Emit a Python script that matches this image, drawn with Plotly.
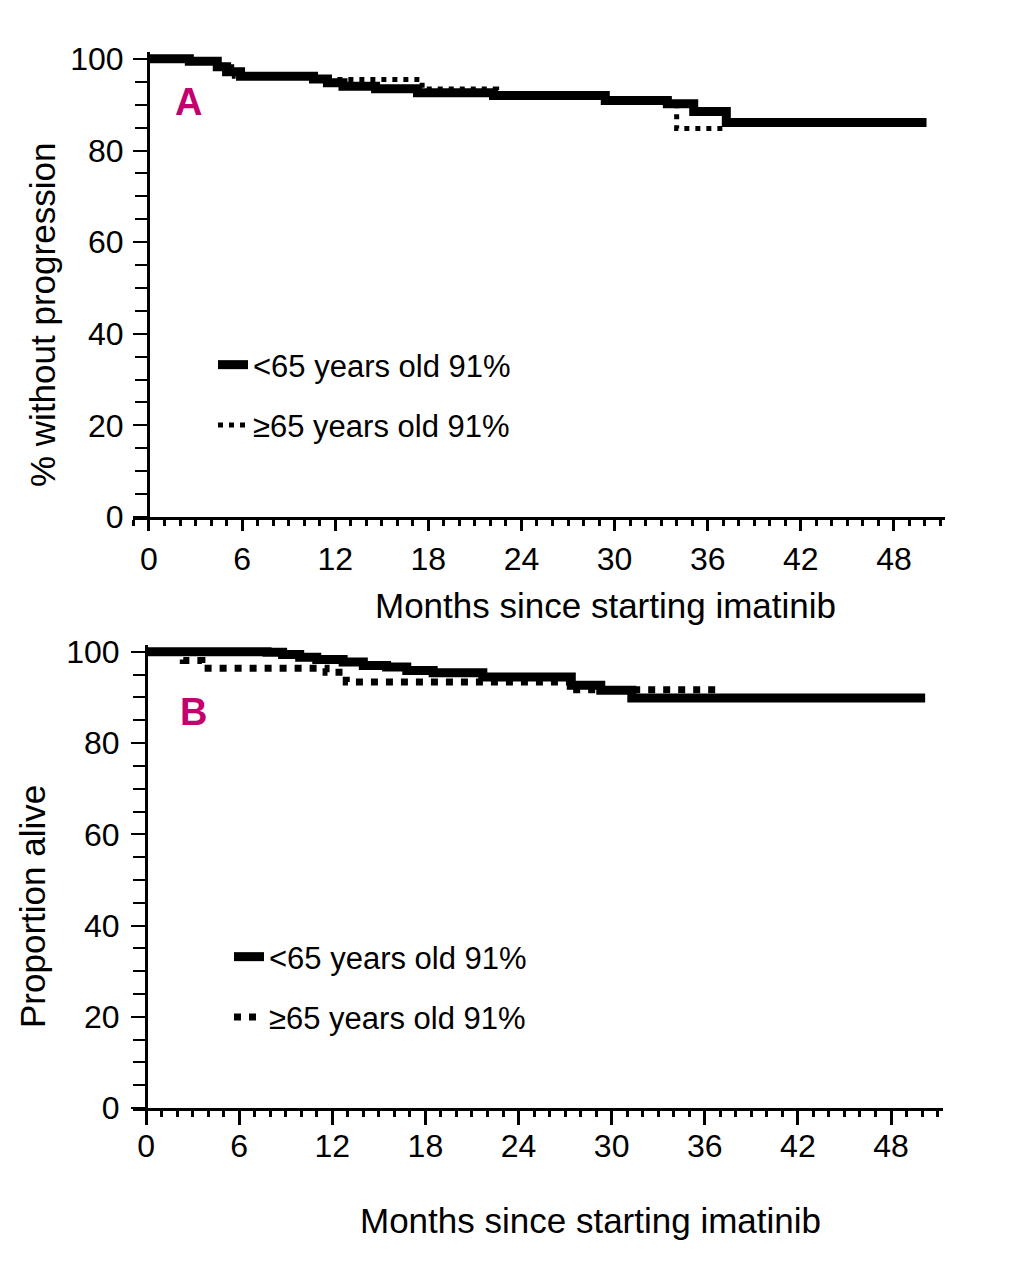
import plotly.graph_objects as go

# ---- Data ----
# Panel A: % without progression
pfs_lt65_months = [0, 2.6, 4.4, 5.0, 5.9, 10.6, 11.5, 12.5, 14.6, 17.3, 22.2, 29.4, 33.4, 35.1, 37.2, 50.1]
pfs_lt65_pct = [100, 99.5, 98.3, 97.2, 96.2, 95.6, 94.8, 94.0, 93.5, 92.6, 92.0, 90.9, 90.2, 88.5, 86.1, 86.1]
pfs_ge65_months = [0, 2.6, 4.4, 5.5, 10.6, 17.6, 22.4, 29.4, 33.4, 34.0, 37.2]
pfs_ge65_pct = [100, 99.5, 98.3, 96.2, 95.5, 93.4, 92.0, 90.9, 90.2, 84.8, 84.8]

# Panel B: proportion alive
os_lt65_months = [0, 7.8, 8.8, 9.9, 11.0, 12.7, 14.0, 15.5, 16.8, 18.5, 21.7, 27.4, 29.3, 31.3, 50.2]
os_lt65_pct = [100, 99.9, 99.4, 98.8, 98.3, 97.8, 97.0, 96.7, 95.9, 95.4, 94.5, 92.7, 91.6, 89.9, 89.9]
os_ge65_months = [0, 2.4, 3.6, 11.6, 12.9, 27.4, 37.0]
os_ge65_pct = [100, 98.1, 96.4, 95.5, 93.4, 91.7, 91.7]

series_names = ["<65 years old 91%", "\u226565 years old 91%"]
x_ticks = [0, 6, 12, 18, 24, 30, 36, 42, 48]
y_ticks = [0, 20, 40, 60, 80, 100]
x_title = "Months since starting imatinib"
y_title_a = "% without progression"
y_title_b = "Proportion alive"

FONT = "Liberation Sans, Arial, Helvetica, sans-serif"
W, H = 1021, 1280
OFF = 8  # page body margin of the html page


def px(x):
    return (x - OFF) / W


def py(y):
    return 1 - (y - OFF) / H


fig = go.Figure()

# Panel A
fig.add_trace(go.Scatter(x=pfs_ge65_months, y=pfs_ge65_pct, mode="lines", line_shape="hv",
                         line=dict(color="black", width=5, dash="5px,6px"),
                         name=series_names[1], legendrank=2, legendgroup="a2",
                         xaxis="x", yaxis="y", legend="legend"))
fig.add_trace(go.Scatter(x=pfs_lt65_months, y=pfs_lt65_pct, mode="lines", line_shape="hv",
                         line=dict(color="black", width=9),
                         name=series_names[0], legendrank=1, legendgroup="a1",
                         xaxis="x", yaxis="y", legend="legend"))
# Panel B
fig.add_trace(go.Scatter(x=os_ge65_months, y=os_ge65_pct, mode="lines", line_shape="hv",
                         line=dict(color="black", width=7, dash="7px,8px"),
                         name=series_names[1], legendrank=2, legendgroup="b2",
                         xaxis="x2", yaxis="y2", legend="legend2"))
fig.add_trace(go.Scatter(x=os_lt65_months, y=os_lt65_pct, mode="lines", line_shape="hv",
                         line=dict(color="black", width=9),
                         name=series_names[0], legendrank=1, legendgroup="b1",
                         xaxis="x2", yaxis="y2", legend="legend2"))

tickfont = dict(family=FONT, size=32, color="black")

common_x = dict(showgrid=False, zeroline=False, showline=True, linecolor="black", linewidth=3,
                automargin=False,
                tickmode="array", tickvals=x_ticks, ticks="outside", tickwidth=3,
                tickcolor="black", tickfont=tickfont,
                minor=dict(dtick=1, tick0=0, ticks="outside", ticklen=6, tickwidth=3, tickcolor="black"))
common_y = dict(showgrid=False, zeroline=False, showline=True, linecolor="black", linewidth=3,
                automargin=False,
                tickmode="array", tickvals=y_ticks, ticks="outside", ticklen=14, tickwidth=2,
                tickcolor="black", tickfont=tickfont,
                minor=dict(dtick=5, tick0=0, ticks="outside", ticklen=12, tickwidth=2, tickcolor="black"))

legend_font = dict(family=FONT, size=31, color="black")

fig.update_layout(
    width=W, height=H,
    margin=dict(l=0, r=0, t=0, b=0, autoexpand=False),
    paper_bgcolor="white", plot_bgcolor="white",
    xaxis=dict(domain=[px(133), px(945)], range=[-1.03, 51.29], anchor="y",
               ticklen=11, ticklabelstandoff=1, **common_x),
    yaxis=dict(domain=[py(517), py(52)], range=[0, 101.5], anchor="free", position=px(148),
               ticklabelstandoff=3, **common_y),
    xaxis2=dict(domain=[px(133), px(943)], range=[-0.84, 51.35], anchor="y2",
                ticklen=14, ticklabelstandoff=-6, **common_x),
    yaxis2=dict(domain=[py(1108), py(645)], range=[0, 101.5], anchor="free", position=px(146),
                ticklabelstandoff=5, **common_y),
    legend=dict(x=px(213), y=py(338), xanchor="left", yanchor="top", bgcolor="rgba(0,0,0,0)",
                font=legend_font, tracegroupgap=17, traceorder="grouped", itemwidth=30),
    legend2=dict(x=px(229), y=py(930), xanchor="left", yanchor="top", bgcolor="rgba(0,0,0,0)",
                 font=legend_font, tracegroupgap=17, traceorder="grouped", itemwidth=30),
    showlegend=True,
)

annotations = [
    dict(text=x_title, x=px(605), y=py(605), xref="paper", yref="paper", showarrow=False,
         font=dict(family=FONT, size=35, color="black"), xanchor="center", yanchor="middle"),
    dict(text=x_title, x=px(590), y=py(1220), xref="paper", yref="paper", showarrow=False,
         font=dict(family=FONT, size=35, color="black"), xanchor="center", yanchor="middle"),
    dict(text=y_title_a, x=px(42), y=py(315), xref="paper", yref="paper", showarrow=False, textangle=-90,
         font=dict(family=FONT, size=35, color="black"), xanchor="center", yanchor="middle"),
    dict(text=y_title_b, x=px(32), y=py(907), xref="paper", yref="paper", showarrow=False, textangle=-90,
         font=dict(family=FONT, size=35, color="black"), xanchor="center", yanchor="middle"),
    dict(text="<b>A</b>", x=px(188), y=py(102), xref="paper", yref="paper", showarrow=False,
         font=dict(family=FONT, size=38, color="#C4006E"), xanchor="center", yanchor="middle"),
    dict(text="<b>B</b>", x=px(193), y=py(712), xref="paper", yref="paper", showarrow=False,
         font=dict(family=FONT, size=38, color="#C4006E"), xanchor="center", yanchor="middle"),
]
fig.update_layout(annotations=annotations)

fig.write_html("out.html")
